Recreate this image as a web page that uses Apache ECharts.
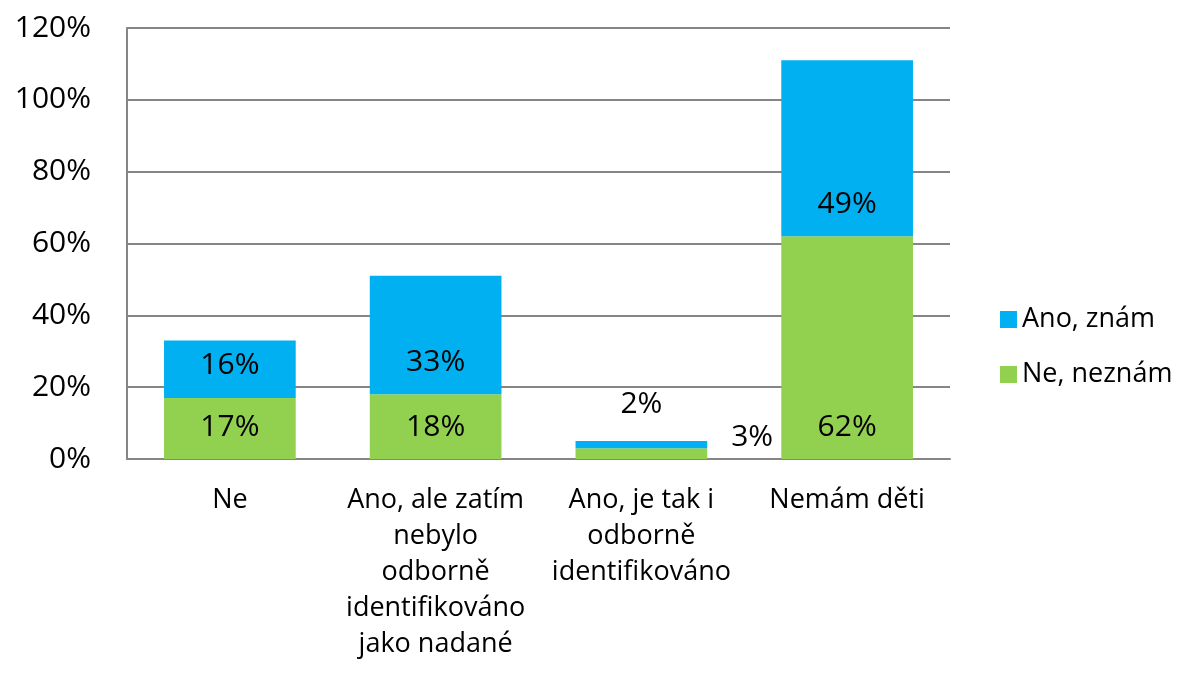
<!DOCTYPE html>
<html>
<head>
<meta charset="utf-8">
<script src="https://cdn.jsdelivr.net/npm/echarts@6/dist/echarts.min.js"></script>
<style>
	html, body { margin: 0; padding: 0; background: #fff; }
	#chart { width: 1179px; height: 688px; }
</style>
</head>
<body>
<div id="chart"></div>
<script>
var categories = [
	'Ne',
	'Ano, ale zatím\nnebylo\nodborně\nidentifikováno\njako nadané',
	'Ano, je tak i\nodborně\nidentifikováno',
	'Nemám děti'
];
var neZnam = [17, 18, 3, 62];
var anoZnam = [16, 33, 2, 49];
var yTicks = [0, 20, 40, 60, 80, 100, 120];

var font = '"Open Sans", Lato, sans-serif';

// the small third bar has its labels moved outside, like in the original
function buildData(values, outside) {
	return values.map(function (v, i) {
		if (i === 2) {
			return { value: v, label: outside };
		}
		return v;
	});
}

var ec = echarts.init(document.getElementById('chart'));
var option = {
	animation: false,
	color: ['#92D050', '#00B0F0'],
	textStyle: { fontFamily: font },
	grid: { left: 127, right: 229, top: 28, bottom: 229, containLabel: false },
	legend: {
		orient: 'vertical',
		left: 995,
		top: 301,
		itemWidth: 17,
		itemHeight: 17,
		itemGap: 28,
		icon: 'rect',
		textStyle: { fontSize: 27, color: '#000', fontFamily: font },
		data: ['Ano, znám', 'Ne, neznám']
	},
	xAxis: {
		type: 'category',
		data: categories,
		axisLine: { lineStyle: { color: '#868686', width: 2 } },
		axisTick: { show: false },
		axisLabel: {
			interval: 0,
			margin: 23,
			fontSize: 27,
			lineHeight: 36,
			color: '#000',
			fontFamily: font
		}
	},
	yAxis: {
		type: 'value',
		min: yTicks[0],
		max: yTicks[yTicks.length - 1],
		interval: 20,
		axisLine: { show: true, lineStyle: { color: '#868686', width: 2 } },
		axisTick: { show: false },
		splitLine: { lineStyle: { color: '#868686', width: 2 } },
		axisLabel: {
			margin: 36,
			fontSize: 30,
			color: '#000',
			fontFamily: font,
			formatter: '{value}%'
		}
	},
	series: [
		{
			name: 'Ne, neznám',
			type: 'bar',
			stack: 'a',
			barWidth: '64%',
			data: buildData(neZnam, { position: 'right', distance: 24, offset: [0, -16] }),
			label: {
				show: true,
				position: 'insideBottom',
				distance: 17,
				fontSize: 30,
				color: '#000',
				fontFamily: font,
				formatter: '{c}%'
			}
		},
		{
			name: 'Ano, znám',
			type: 'bar',
			stack: 'a',
			data: buildData(anoZnam, { position: 'top', distance: 22 }),
			label: {
				show: true,
				position: 'insideBottom',
				distance: 17,
				fontSize: 30,
				color: '#000',
				fontFamily: font,
				formatter: '{c}%'
			}
		}
	]
};
ec.setOption(option);
</script>
</body>
</html>
